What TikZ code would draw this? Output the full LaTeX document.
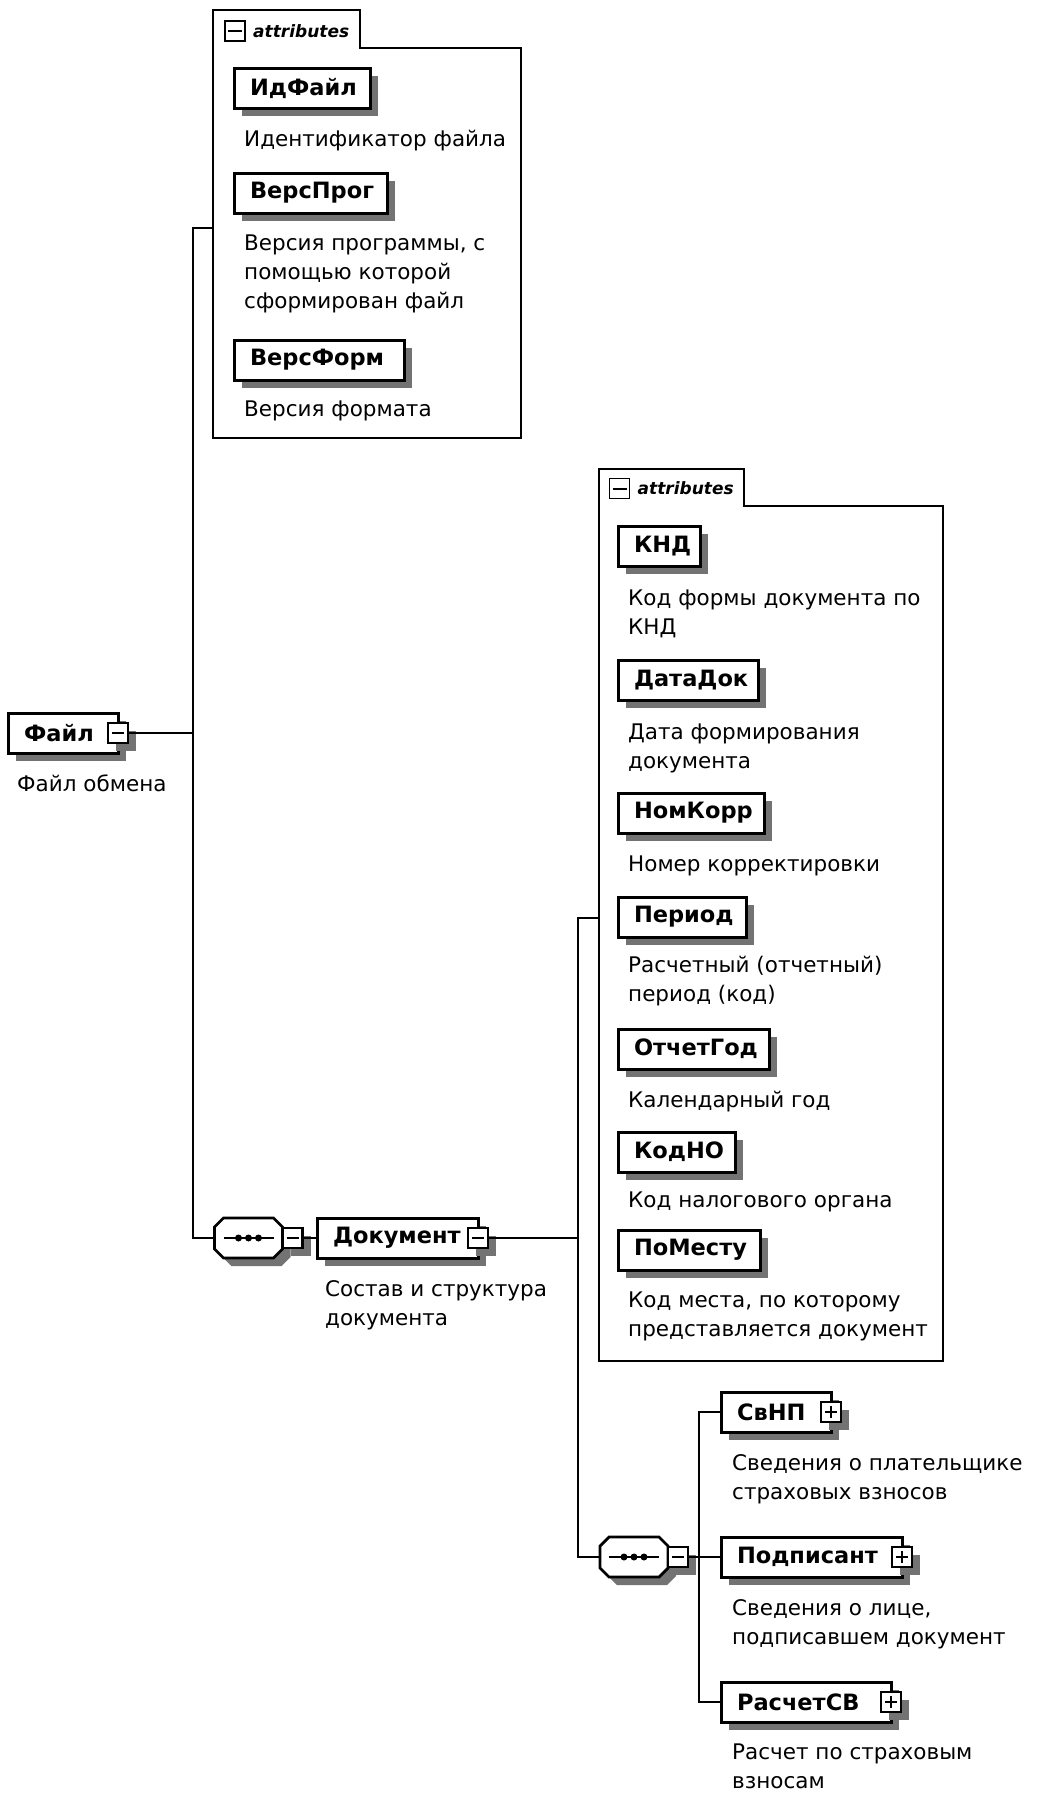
\documentclass[tikz,border=0pt]{standalone}
\usepackage{fontspec}
\setmainfont{DejaVu Sans}
\usetikzlibrary{positioning,shadows}

\newcommand{\namefont}{\fontsize{22.5}{26}\selectfont\bfseries}
\newcommand{\descfont}{\fontsize{21.5}{29}\selectfont}
\newcommand{\tabfont}{\fontsize{17}{20}\selectfont\bfseries\itshape}

\tikzset{
  elshadow/.style={drop shadow={shadow xshift=8pt,shadow yshift=-8pt,fill=black!55,opacity=1}},
  elem/.style={draw,line width=3pt,fill=white,elshadow,font=\namefont,align=left,
    inner xsep=16pt,inner ysep=0pt,outer sep=0pt,minimum height=40pt,anchor=north west},
  desc/.style={font=\descfont,align=left,anchor=north west,inner sep=0pt},
  btn/.style={draw,line width=2.2pt,fill=white,minimum size=20pt,inner sep=0pt,outer sep=0pt},
  minusbtn/.style={btn,elshadow,path picture={
    \draw[line width=2pt] ([xshift=4pt]path picture bounding box.west)
      -- ([xshift=-4pt]path picture bounding box.east);}},
  plusbtn/.style={btn,elshadow,path picture={
    \draw[line width=2pt] ([xshift=4pt]path picture bounding box.west)
      -- ([xshift=-4pt]path picture bounding box.east);
    \draw[line width=2pt] ([yshift=-4pt]path picture bounding box.north)
      -- ([yshift=4pt]path picture bounding box.south);}},
  tabbtn/.style={btn,line width=1.8pt,path picture={
    \draw[line width=2pt] ([xshift=3pt]path picture bounding box.west)
      -- ([xshift=-3pt]path picture bounding box.east);}},
  tabtext/.style={font=\tabfont,inner sep=0pt},
  seq/.style={minimum width=68pt,minimum height=40pt,inner sep=0pt,outer sep=0pt},
  seqoct/.pic={
    \fill[black!55] (-17,-12) -- (33,-12) -- (42,-3) -- (42,19) -- (33,28) -- (-17,28) -- (-26,19) -- (-26,-3) -- cycle;
    \draw[line width=2.8pt,fill=white] (-25,-20) -- (25,-20) -- (34,-11) -- (34,11) -- (25,20)
      -- (-25,20) -- (-34,11) -- (-34,-11) -- cycle;
    \draw[line width=2pt] (-25,0) -- (25,0);
    \foreach \dx in {-10,0,10}
      \fill (\dx,0) circle (3.5pt);
  },
  conn/.style={line width=2.5pt},
  cont/.style={line width=2.2pt}
}

\begin{document}
\begin{tikzpicture}[x=1pt,y=-1pt]
\useasboundingbox (0,0) rectangle (1036,1796);

% root element
\node[elem,text width=78pt] (fajl) at (8,713) {Файл};
\node[minusbtn] (fajlbtn) at (fajl.east) {};
\node[desc] (fajld) [below right=22pt and 9pt of fajl.south west] {Файл обмена};

% attributes of Файл
\draw[cont] (213,48) -- (213,10) -- (360,10) -- (360,48) -- (521,48) -- (521,438) -- (213,438) -- cycle;
\coordinate (attr1) at (213,228);
\node[tabbtn] (tab1) at (235,31) {};
\node[tabtext,right=8pt of tab1] (tab1t) {attributes};

\node[elem,text width=104pt] (idfajl) at (234,68) {ИдФайл};
\node[desc] (idfajld) [below right=22pt and 10pt of idfajl.south west] {Идентификатор файла};
\node[elem,text width=121pt] (versprog) at (234,173) {ВерсПрог};
\node[desc] (versprogd) [below right=22pt and 10pt of versprog.south west]
  {Версия программы, с\\помощью которой\\сформирован файл};
\node[elem,text width=138pt] (versform) at (234,340) {ВерсФорм};
\node[desc] (versformd) [below right=21pt and 10pt of versform.south west] {Версия формата};

% sequence under Файл
\node[seq] (seq1) at (248.5,1238) {};
\pic at (seq1.center) {seqoct};
\node[minusbtn,anchor=west] (seq1btn) at (seq1.east) {};

\node[elem,text width=129pt] (dok) at (317,1218) {Документ};
\node[minusbtn] (dokbtn) at (dok.east) {};
\node[desc] (dokd) [below right=22pt and 8pt of dok.south west] {Состав и структура\\документа};

% attributes of Документ
\draw[cont] (599,506) -- (599,469) -- (744,469) -- (744,506) -- (943,506) -- (943,1361) -- (599,1361) -- cycle;
\coordinate (attr2) at (599,918);
\node[tabbtn] (tab2) at (619.5,488.5) {};
\node[tabtext,right=8pt of tab2] (tab2t) {attributes};

\node[elem,text width=50pt] (knd) at (618,526) {КНД};
\node[desc] (kndd) [below right=24pt and 10pt of knd.south west] {Код формы документа по\\КНД};
\node[elem,text width=108pt] (datadok) at (618,660) {ДатаДок};
\node[desc] (datadokd) [below right=24pt and 10pt of datadok.south west] {Дата формирования\\документа};
\node[elem,text width=114pt] (nomkorr) at (618,793) {НомКорр};
\node[desc] (nomkorrd) [below right=23pt and 10pt of nomkorr.south west] {Номер корректировки};
\node[elem,text width=96pt] (period) at (618,897) {Период};
\node[desc] (periodd) [below right=19pt and 10pt of period.south west] {Расчетный (отчетный)\\период (код)};
\node[elem,text width=119pt] (otchgod) at (618,1029) {ОтчетГод};
\node[desc] (otchgodd) [below right=22pt and 10pt of otchgod.south west] {Календарный год};
\node[elem,text width=85pt] (kodno) at (618,1132) {КодНО};
\node[desc] (kodnod) [below right=20pt and 10pt of kodno.south west] {Код налогового органа};
\node[elem,text width=110pt] (pomestu) at (618,1230) {ПоМесту};
\node[desc] (pomestud) [below right=22pt and 10pt of pomestu.south west]
  {Код места, по которому\\представляется документ};

% sequence under Документ
\node[seq] (seq2) at (634,1557) {};
\pic at (seq2.center) {seqoct};
\node[minusbtn,anchor=west] (seq2btn) at (seq2.east) {};

\node[elem,text width=78pt] (svnp) at (721,1392) {СвНП};
\node[plusbtn] (svnpbtn) at (svnp.east) {};
\node[desc] (svnpd) [below right=22pt and 11pt of svnp.south west] {Сведения о плательщике\\страховых взносов};
\node[elem,text width=149pt] (podp) at (721,1537) {Подписант};
\node[plusbtn] (podpbtn) at (podp.east) {};
\node[desc] (podpd) [below right=22pt and 11pt of podp.south west] {Сведения о лице,\\подписавшем документ};
\node[elem,text width=138pt] (rasch) at (721,1682) {РасчетСВ};
\node[plusbtn] (raschbtn) at (rasch.east) {};
\node[desc] (raschd) [below right=22pt and 11pt of rasch.south west] {Расчет по страховым\\взносам};

% connectors
\coordinate (j1) at (193,733);
\draw[conn] (fajlbtn.east) -- (j1);
\draw[conn] (attr1) -| (j1) |- (seq1.west);
\draw[conn] (seq1btn.east) -- (dok.west);
\coordinate (j2) at (578,1238);
\draw[conn] (dokbtn.east) -- (j2);
\draw[conn] (attr2) -| (j2) |- (seq2.west);
\coordinate (j3) at (699,1557);
\draw[conn] (seq2btn.east) -- (podp.west);
\draw[conn] (svnp.west) -| (j3) |- (rasch.west);
\end{tikzpicture}
\end{document}
